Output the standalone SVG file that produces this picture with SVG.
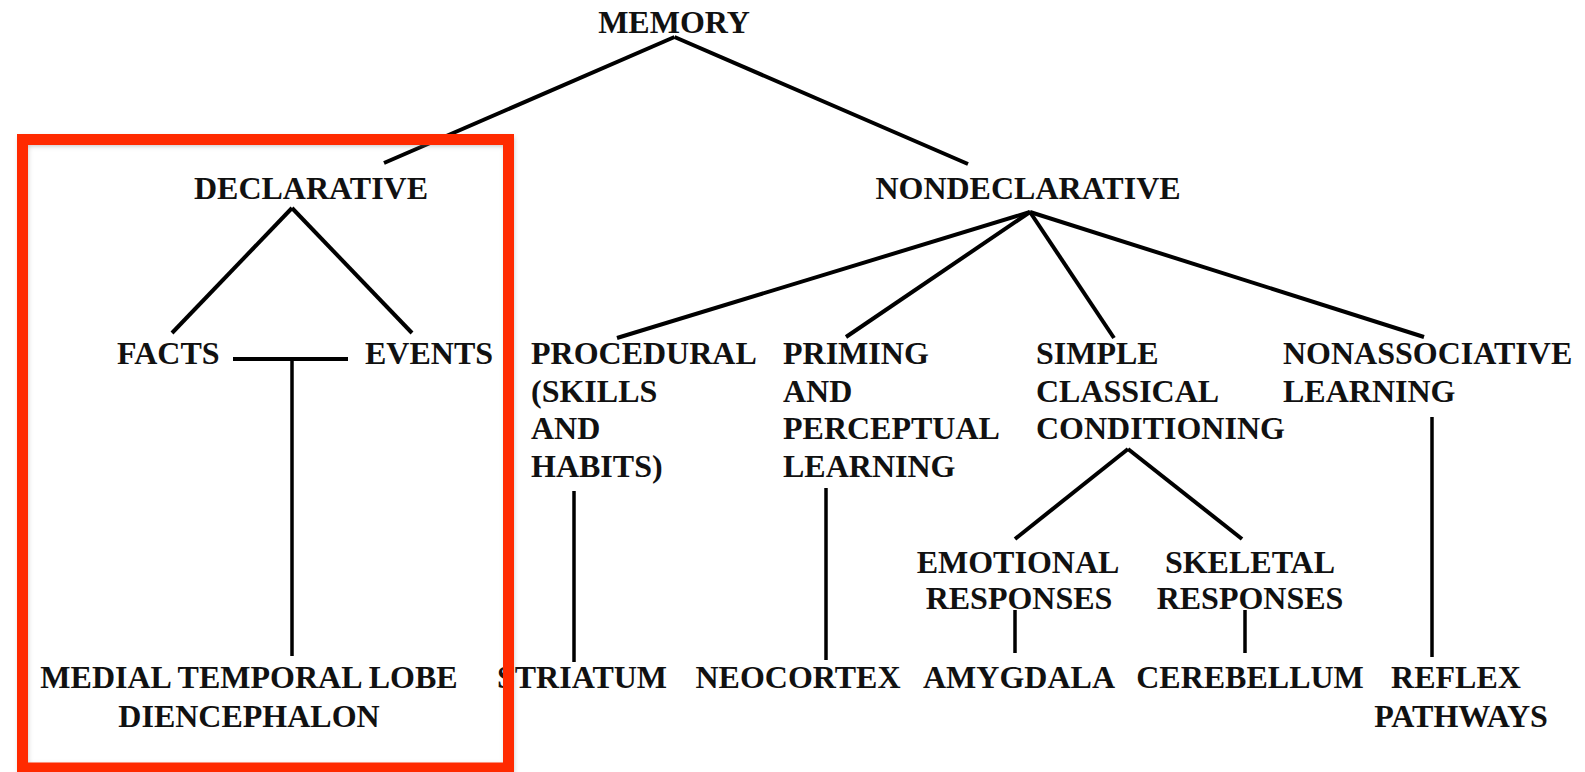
<svg xmlns="http://www.w3.org/2000/svg" width="1585" height="772" viewBox="0 0 1585 772">
<defs>
<style>
text{font-family:"Liberation Serif","Times New Roman",serif;font-weight:bold;font-size:32px;fill:#111}
.c{text-anchor:middle}
.l{text-anchor:start}
.e line{stroke:#000;stroke-width:4;stroke-linecap:butt}
.e line.v{stroke-width:3.5}
</style>
<filter id="sh" x="-5%" y="-5%" width="110%" height="110%">
<feGaussianBlur stdDeviation="2.5"/>
</filter>
</defs>
<rect width="1585" height="772" fill="#fff"/>
<g id="connectors" class="e">
<line x1="674.5" y1="37" x2="384" y2="163"/>
<line x1="674.5" y1="37" x2="968" y2="164"/>
<line x1="292" y1="208" x2="172" y2="333"/>
<line x1="292" y1="208" x2="412" y2="333"/>
<line x1="233" y1="359" x2="348" y2="359"/>
<line class="v" x1="292" y1="359" x2="292" y2="656"/>
<line x1="1030" y1="212" x2="617" y2="338"/>
<line x1="1030" y1="212" x2="846" y2="337"/>
<line x1="1030" y1="212" x2="1114" y2="338"/>
<line x1="1030" y1="212" x2="1424" y2="337"/>
<line class="v" x1="574" y1="491" x2="574" y2="662"/>
<line class="v" x1="826" y1="488" x2="826" y2="660"/>
<line x1="1128" y1="449" x2="1015" y2="539"/>
<line x1="1128" y1="449" x2="1242" y2="539"/>
<line class="v" x1="1015" y1="610" x2="1015" y2="653"/>
<line class="v" x1="1245" y1="610" x2="1245" y2="653"/>
<line class="v" x1="1432" y1="417" x2="1432" y2="657"/>
</g>
<g id="memory"><text class="c" x="674" y="33">MEMORY</text></g>
<g id="declarative"><text class="c" x="311" y="199">DECLARATIVE</text></g>
<g id="nondeclarative"><text class="c" x="1028" y="199">NONDECLARATIVE</text></g>
<g id="facts"><text class="l" x="117" y="364">FACTS</text></g>
<g id="events"><text class="l" x="365" y="364">EVENTS</text></g>
<g id="procedural"><text class="l" x="531" y="364">PROCEDURAL</text><text class="l" x="531" y="401.5">(SKILLS</text><text class="l" x="531" y="439">AND</text><text class="l" x="531" y="476.5">HABITS)</text></g>
<g id="priming"><text class="l" x="783" y="364">PRIMING</text><text class="l" x="783" y="401.5">AND</text><text class="l" x="783" y="439">PERCEPTUAL</text><text class="l" x="783" y="476.5">LEARNING</text></g>
<g id="simple"><text class="l" x="1036" y="364">SIMPLE</text><text class="l" x="1036" y="401.5">CLASSICAL</text><text class="l" x="1036" y="439">CONDITIONING</text></g>
<g id="nonassociative"><text class="l" x="1283" y="364">NONASSOCIATIVE</text><text class="l" x="1283" y="401.5">LEARNING</text></g>
<g id="emotional"><text class="c" x="1018" y="573">EMOTIONAL</text><text class="c" x="1019" y="609">RESPONSES</text></g>
<g id="skeletal"><text class="c" x="1250" y="573">SKELETAL</text><text class="c" x="1250" y="609">RESPONSES</text></g>
<g id="mtl"><text class="c" x="249" y="688">MEDIAL TEMPORAL LOBE</text><text class="c" x="249" y="727">DIENCEPHALON</text></g>
<g id="striatum"><text class="c" x="582" y="688">STRIATUM</text></g>
<g id="neocortex"><text class="c" x="798" y="688">NEOCORTEX</text></g>
<g id="amygdala"><text class="c" x="1019" y="688">AMYGDALA</text></g>
<g id="cerebellum"><text class="c" x="1250" y="688">CEREBELLUM</text></g>
<g id="reflex"><text class="c" x="1456" y="688">REFLEX</text><text class="c" x="1461" y="727">PATHWAYS</text></g>
<g id="highlight">
<rect x="23.5" y="141.5" width="486" height="628" fill="none" stroke="#888" stroke-width="9" opacity="0.5" filter="url(#sh)"/>
<rect x="22.5" y="139.5" width="486" height="628.5" fill="none" stroke="#FF2A00" stroke-width="11"/>
</g>
</svg>
